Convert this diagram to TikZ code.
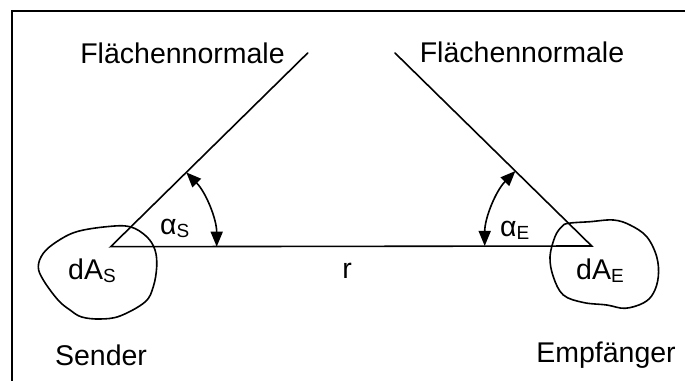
\documentclass[tikz,border=0pt]{standalone}
\usepackage{fontspec}
\setmainfont{Liberation Sans}
\usetikzlibrary{arrows.meta}
\newcommand\subtxt[1]{\raisebox{-3pt}{\fontsize{19}{19}\selectfont #1}}
\tikzset{
  lbl/.style={inner sep=0pt, font=\fontsize{28.5}{30}\selectfont},
  ln/.style={line width=1.6pt, line cap=round, line join=miter},
  blob/.style={line width=1.6pt},
  angarr/.style={line width=1.6pt, {Triangle[length=15pt,width=12pt]}-{Triangle[length=15pt,width=12pt]}},
  frame/.style={line width=2pt}
}
\begin{document}
\begin{tikzpicture}[x=1pt,y=1pt]
\useasboundingbox (0,0) rectangle (685,380);
\clip (0,0) rectangle (685,380);
\fill[white] (0,0) rectangle (685,380);
\draw[frame] (12,-20) -- (12,369) -- (700,369);

\coordinate (vS) at (110.7,133.3);
\coordinate (vE) at (591.7,134);
\coordinate (nS) at (307.7,327);
\coordinate (nE) at (395,327);

\draw[ln] (nS) -- (vS) -- (vE) -- (nE);

\draw[angarr] ([shift={(0:106pt)}]vS) arc[start angle=0, end angle=44.5, radius=106pt];
\draw[angarr] ([shift={(180:107pt)}]vE) arc[start angle=180, end angle=135.5, radius=107pt];

\draw[blob] plot[smooth cycle, tension=0.6] coordinates {(106.7,153.3) (130,153.3) (146.7,143.3) (155,130) (156.7,113.3) (153.3,93.3) (145,78) (120,64) (100,61) (81.7,63) (70,70) (58,80) (43.3,100) (38.3,113.3) (43.3,126.7) (56.7,138.3) (76.7,148.3)};
\draw[blob] plot[smooth cycle, tension=0.6] coordinates {(568.3,156.7) (590,158.3) (613.3,160) (630,155) (646.7,143.3) (656.7,123.3) (658.3,103.3) (653.3,86.7) (643.3,77) (625,71.7) (606.7,75) (583.3,77.5) (563.3,85) (553.3,103.3) (550,123.3) (555,143.3) (561.7,153.3)};

\node[lbl, anchor=base] (fnS) at (182.5,316) {Flächennormale};
\node[lbl, anchor=base] (fnE) at (522,317) {Flächennormale};
\node[lbl, anchor=base] (snd) at (101,15) {Sender};
\node[lbl, anchor=base] (emp) at (606,17) {Empfänger};
\node[lbl, anchor=base] (r) at (347,101) {r};
\node[lbl, anchor=base west] (dAS) at (68,100) {dA\subtxt{S}};
\node[lbl, anchor=base west] (dAE) at (576,100) {dA\subtxt{E}};
\node[lbl, anchor=base west] (aS) at (160,145) {α\subtxt{S}};
\node[lbl, anchor=base west] (aE) at (500,143) {α\subtxt{E}};
\end{tikzpicture}
\end{document}
